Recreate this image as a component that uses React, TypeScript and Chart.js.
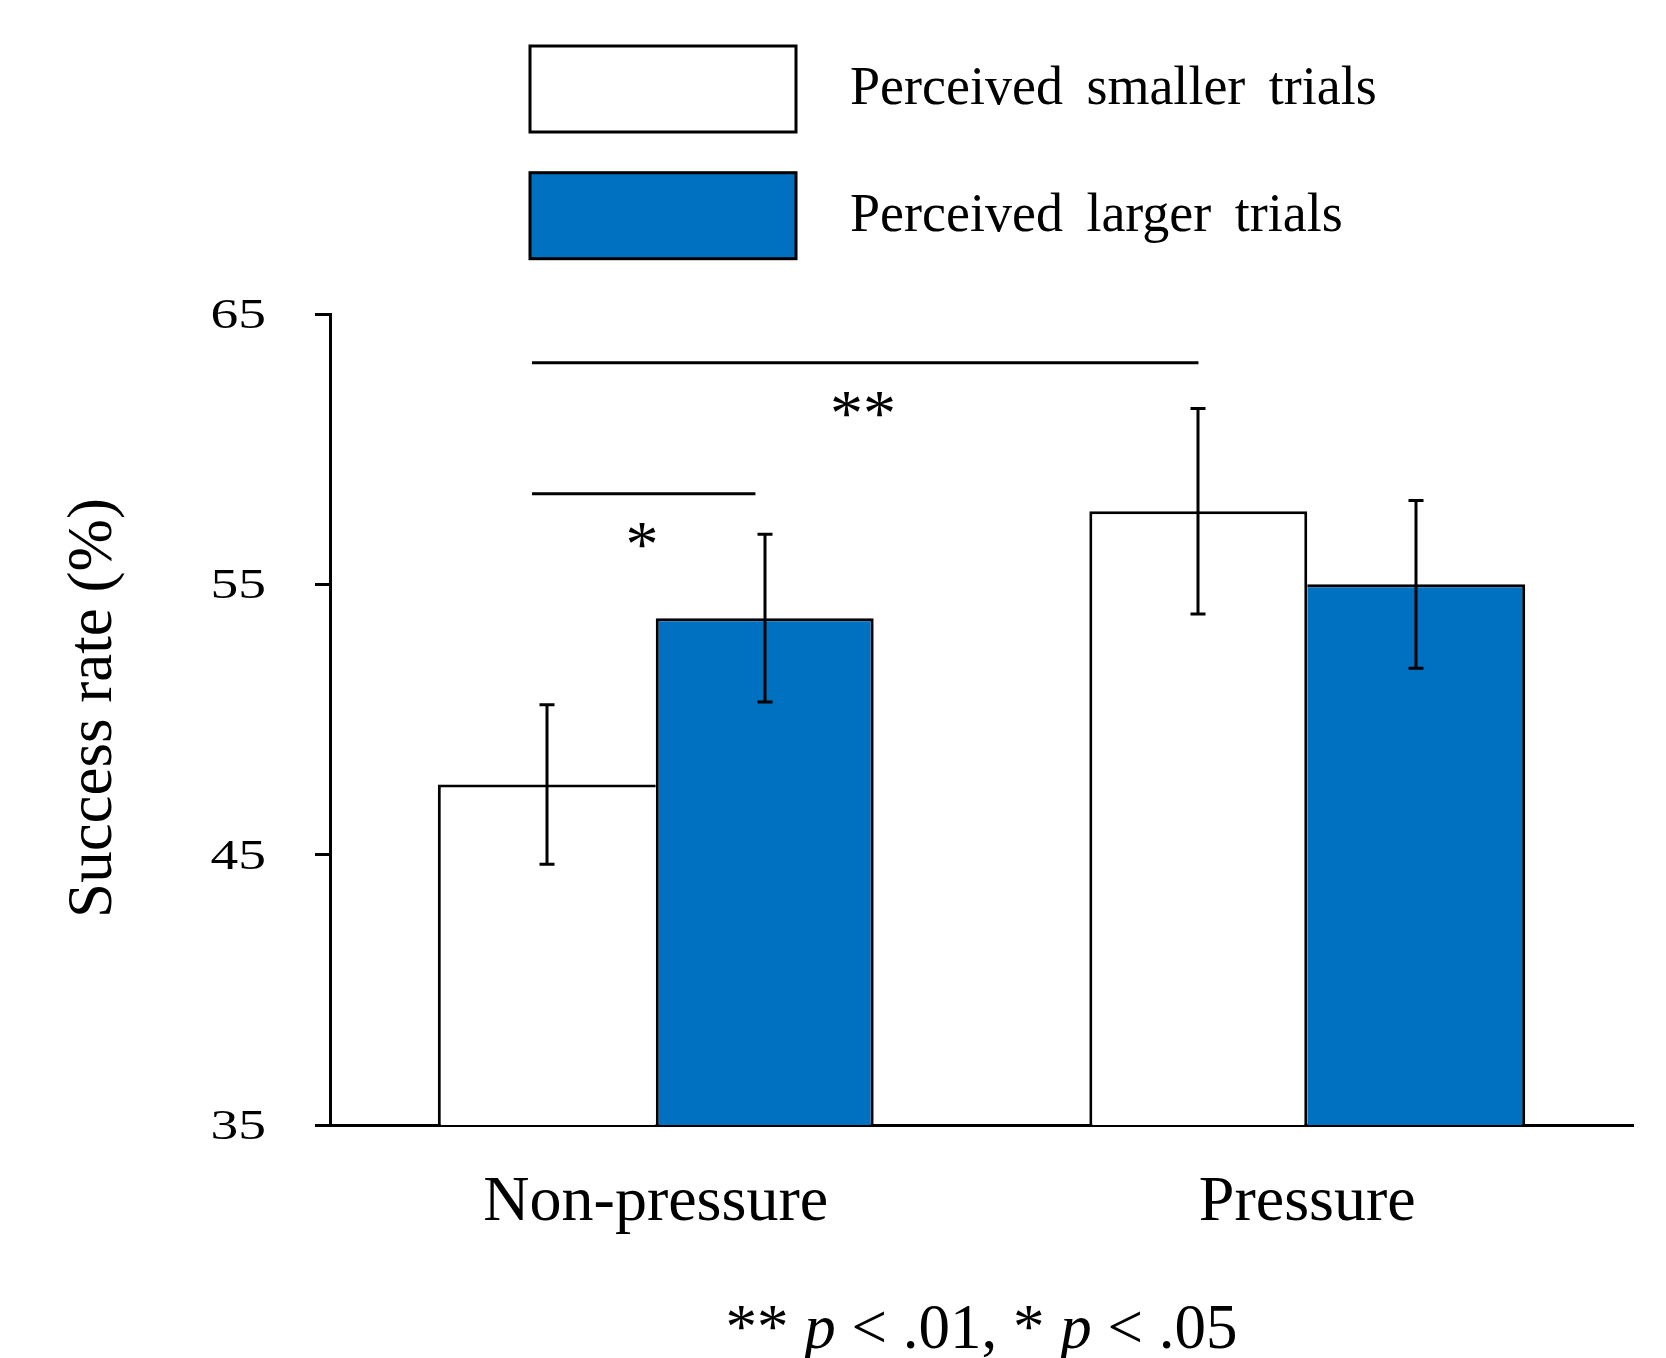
import React, { useEffect, useRef } from 'react';
import { Chart, registerables } from 'chart.js';

Chart.register(...registerables);

// ---------- data ----------
const categories = ['Non-pressure', 'Pressure'];
const seriesLabels = ['Perceived smaller trials', 'Perceived larger trials'];
const smallerMeans = [47.6, 57.7];
const smallerErrors = [2.95, 3.8];
const largerMeans = [53.75, 55.0];
const largerErrors = [3.1, 3.1];
const seriesColors = ['#FFFFFF', '#0070C0'];
const yTicks = [35, 45, 55, 65];
const yTitle = 'Success rate (%)';

// significance annotations (x in category-index units, y in data units)
const sigLabels = ['**', '*'];
const sigLineStart = [-0.19, -0.19];
const sigLineEnd = [0.833, 0.153];
const sigLineValue = [63.2, 58.35];
const sigLabelPos = [0.318, -0.021];
const sigLabelValue = [61.67, 56.82];

const footnoteTexts = ['** ', 'p', ' < .01, * ', 'p', ' < .05'];
const footnoteItalic = [false, true, false, true, false];

const errorSets = [smallerErrors, largerErrors];
const meanSets = [smallerMeans, largerMeans];

const FONT = '"Liberation Serif", "Times New Roman", serif';
const BW = 3;

// shared edge between the two adjacent bars is drawn only once (by the taller bar)
const borderFor = (di: number) => (c: any) => {
  const i = c.dataIndex;
  const mine = meanSets[di][i];
  const other = meanSets[1 - di][i];
  const inner = mine >= other ? BW : 0;
  return di === 0
    ? { top: BW, left: BW, right: inner, bottom: 0 }
    : { top: BW, left: inner, right: BW, bottom: 0 };
};

const decorPlugin = {
  id: 'decor',
  afterDraw(chart: any) {
    const ctx: CanvasRenderingContext2D = chart.ctx;
    const xs = chart.scales.x;
    const ys = chart.scales.y;
    const area = chart.chartArea;
    ctx.save();
    ctx.strokeStyle = '#000';
    ctx.fillStyle = '#000';
    ctx.lineWidth = 3;
    ctx.lineCap = 'butt';

    // error bars
    chart.data.datasets.forEach((ds: any, di: number) => {
      const meta = chart.getDatasetMeta(di);
      const errs = errorSets[di];
      meta.data.forEach((bar: any, i: number) => {
        const v = ds.data[i];
        const e = errs[i];
        const cx = Math.round(bar.x);
        const yt = ys.getPixelForValue(v + e);
        const yb = ys.getPixelForValue(v - e);
        ctx.beginPath();
        ctx.moveTo(cx, yt);
        ctx.lineTo(cx, yb);
        ctx.moveTo(cx - 7.5, yt);
        ctx.lineTo(cx + 7.5, yt);
        ctx.moveTo(cx - 7.5, yb);
        ctx.lineTo(cx + 7.5, yb);
        ctx.stroke();
      });
    });

    // significance lines
    sigLabels.forEach((lab, i) => {
      const py = ys.getPixelForValue(sigLineValue[i]);
      ctx.beginPath();
      ctx.moveTo(xs.getPixelForValue(sigLineStart[i]), py);
      ctx.lineTo(xs.getPixelForValue(sigLineEnd[i]), py);
      ctx.stroke();
      ctx.font = `66px ${FONT}`;
      ctx.textAlign = 'center';
      ctx.textBaseline = 'alphabetic';
      const m = ctx.measureText(lab);
      const cy = ys.getPixelForValue(sigLabelValue[i]);
      const base = cy + (m.actualBoundingBoxAscent - m.actualBoundingBoxDescent) / 2;
      ctx.fillText(lab, xs.getPixelForValue(sigLabelPos[i]), base);
    });

    // y tick labels (horizontally stretched like the original)
    ctx.font = `43px ${FONT}`;
    ctx.textAlign = 'right';
    ctx.textBaseline = 'alphabetic';
    yTicks.forEach((v) => {
      const py = ys.getPixelForValue(v);
      ctx.save();
      ctx.translate(area.left - 64, py + 14);
      ctx.scale(1.29, 1);
      ctx.fillText(String(v), 0, 0);
      ctx.restore();
    });

    // y title
    ctx.save();
    ctx.font = `63px ${FONT}`;
    ctx.textAlign = 'center';
    ctx.textBaseline = 'alphabetic';
    ctx.translate(111, 708);
    ctx.rotate(-Math.PI / 2);
    ctx.fillText(yTitle, 0, 0);
    ctx.restore();

    // legend
    ctx.font = `54px ${FONT}`;
    ctx.textAlign = 'left';
    ctx.textBaseline = 'alphabetic';
    (ctx as any).wordSpacing = '10px';
    chart.data.datasets.forEach((ds: any, di: number) => {
      const top = 46 + di * 126.7;
      ctx.fillStyle = ds.backgroundColor;
      ctx.fillRect(530, top, 266, 86);
      ctx.strokeStyle = '#000';
      ctx.lineWidth = 3;
      ctx.strokeRect(530, top, 266, 86);
      ctx.fillStyle = '#000';
      ctx.fillText(ds.label, 850, top + 58);
    });
    (ctx as any).wordSpacing = '0px';

    // footnote
    const fsize = 63;
    const widths = footnoteTexts.map((t, i) => {
      ctx.font = `${footnoteItalic[i] ? 'italic ' : ''}${fsize}px ${FONT}`;
      return ctx.measureText(t).width;
    });
    const total = widths.reduce((a, b) => a + b, 0);
    let fx = (area.left + area.right) / 2 - total / 2;
    ctx.textAlign = 'left';
    footnoteTexts.forEach((t, i) => {
      ctx.font = `${footnoteItalic[i] ? 'italic ' : ''}${fsize}px ${FONT}`;
      ctx.fillText(t, fx, 1348);
      fx += widths[i];
    });

    ctx.restore();
  },
};

export default function App() {
  const canvasRef = useRef<HTMLCanvasElement | null>(null);

  useEffect(() => {
    if (!canvasRef.current) return;
    const chart = new Chart(canvasRef.current, {
      type: 'bar',
      data: {
        labels: categories,
        datasets: [
          {
            label: seriesLabels[0],
            data: smallerMeans,
            backgroundColor: seriesColors[0],
            borderColor: '#000000',
            borderWidth: borderFor(0),
            borderSkipped: false,
          },
          {
            label: seriesLabels[1],
            data: largerMeans,
            backgroundColor: seriesColors[1],
            borderColor: '#000000',
            borderWidth: borderFor(1),
            borderSkipped: false,
          },
        ],
      },
      options: {
        responsive: false,
        devicePixelRatio: 1,
        animation: false,
        layout: { padding: { top: 314, right: 33, bottom: 0, left: 0 } },
        datasets: { bar: { categoryPercentage: 0.669, barPercentage: 1.0 } },
        plugins: {
          legend: { display: false },
          tooltip: { enabled: false },
          title: { display: false },
        },
        scales: {
          x: {
            type: 'category',
            grid: { display: false, drawTicks: false },
            border: { display: true, color: '#000000', width: 3 },
            ticks: {
              color: '#000000',
              font: { family: FONT, size: 64 },
              padding: 40,
              maxRotation: 0,
              autoSkip: false,
            },
            afterFit: (s: any) => {
              s.height = 233;
            },
          },
          y: {
            type: 'linear',
            min: 35,
            max: 65,
            afterBuildTicks: (s: any) => {
              s.ticks = yTicks.map((v) => ({ value: v }));
            },
            grid: {
              display: true,
              drawOnChartArea: false,
              drawTicks: true,
              tickLength: 15,
              color: '#000000',
              lineWidth: 3,
            },
            border: { display: true, color: '#000000', width: 3 },
            ticks: { display: false },
            afterFit: (s: any) => {
              s.width = 330;
            },
          },
        },
      } as any,
      plugins: [decorPlugin],
    });
    return () => chart.destroy();
  }, []);

  return (
    <div style={{ position: 'absolute', left: 0, top: 0, width: 1666, height: 1358, background: '#fff' }}>
      <canvas ref={canvasRef} width={1666} height={1358} style={{ display: 'block' }} />
    </div>
  );
}
